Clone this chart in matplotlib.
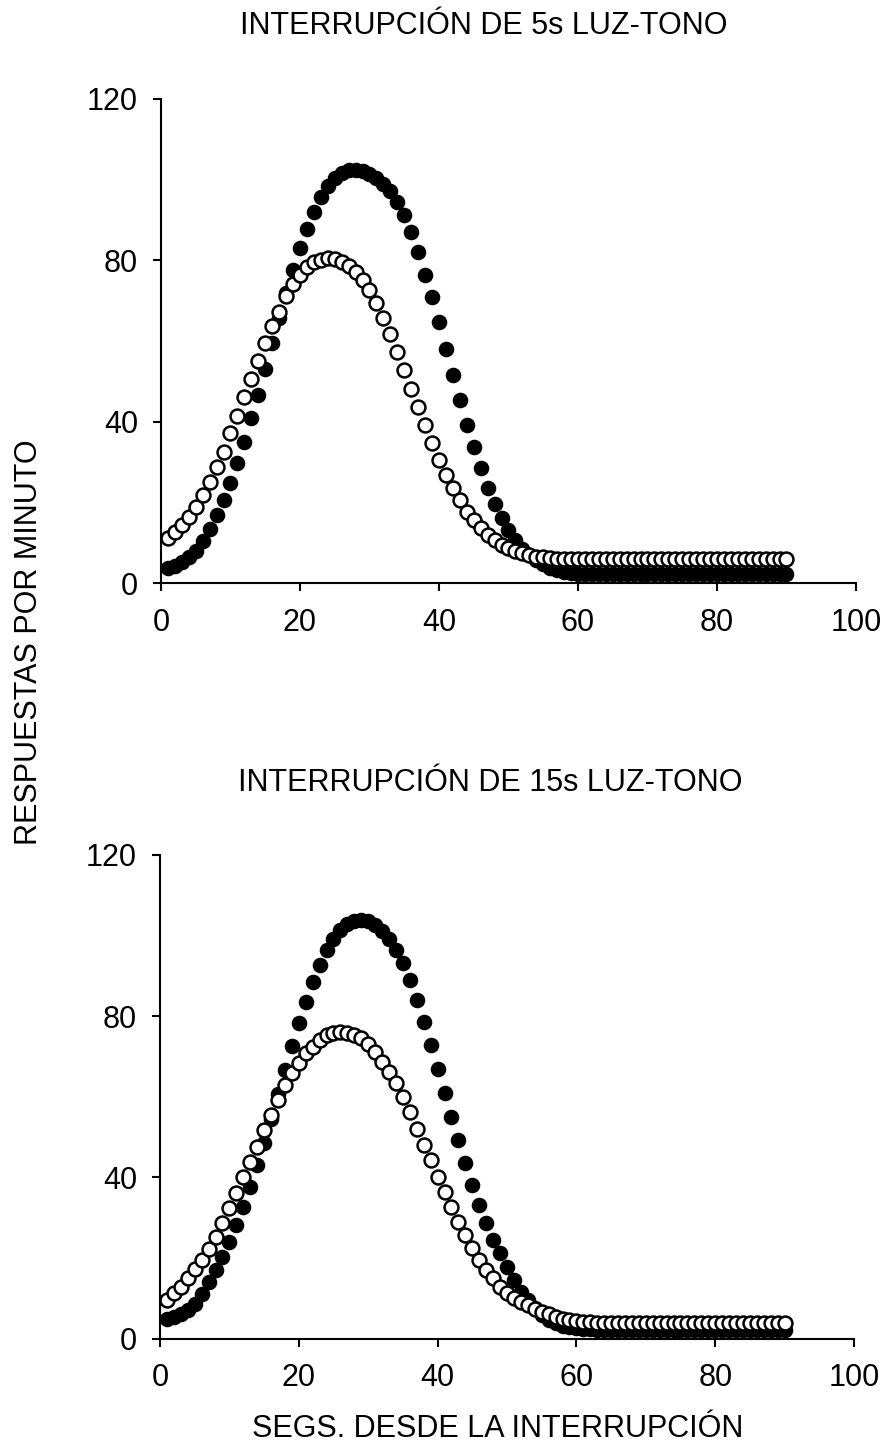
import numpy as np
import matplotlib
matplotlib.use("Agg")
import matplotlib.pyplot as plt

plt.rcParams['font.family'] = ['Liberation Sans', 'DejaVu Sans']

segs = np.arange(1, 91)

# panel 1: interrupción de 5s
llenos_5s = [3.7, 4.3, 5.2, 6.4, 8.0, 10.5, 13.4, 16.9, 20.6, 24.8,
             29.7, 34.9, 40.8, 46.6, 53.0, 59.4, 65.6, 71.8, 77.5, 83.0,
             87.7, 92.0, 95.5, 98.3, 100.3, 101.6, 102.2, 102.3, 102.0, 101.3,
             100.2, 98.8, 97.0, 94.5, 91.2, 87.0, 82.1, 76.3, 70.8, 64.6,
             58.0, 51.6, 45.4, 39.2, 33.7, 28.5, 23.5, 19.6, 16.1, 13.1,
             10.6, 8.6, 7.0, 5.7, 4.7, 3.9, 3.3, 2.9, 2.6, 2.4,
             2.3, 2.2, 2.2, 2.2, 2.2, 2.2, 2.2, 2.2, 2.2, 2.2,
             2.2, 2.2, 2.2, 2.2, 2.2, 2.2, 2.2, 2.2, 2.2, 2.2,
             2.2, 2.2, 2.2, 2.2, 2.2, 2.2, 2.2, 2.2, 2.2, 2.2]
vacios_5s = [11.1, 12.8, 14.4, 16.5, 19.0, 21.9, 25.1, 28.9, 32.6, 37.1,
             41.4, 46.2, 50.5, 55.1, 59.6, 63.7, 67.2, 71.2, 74.0, 76.3,
             78.2, 79.5, 80.1, 80.4, 80.2, 79.6, 78.6, 77.1, 75.1, 72.6,
             69.3, 65.6, 61.6, 57.3, 52.8, 48.1, 43.6, 39.1, 34.8, 30.5,
             26.8, 23.5, 20.6, 17.7, 15.7, 13.6, 12.0, 10.7, 9.5, 8.7,
             7.9, 7.4, 7.0, 6.6, 6.4, 6.2, 6.1, 6.0, 5.9, 5.9,
             5.9, 5.9, 5.9, 5.9, 5.9, 5.9, 5.9, 5.9, 5.9, 5.9,
             5.9, 5.9, 5.9, 5.9, 5.9, 5.9, 5.9, 5.9, 5.9, 5.9,
             5.9, 5.9, 5.9, 5.9, 5.9, 5.9, 5.9, 5.9, 5.9, 5.9]

# panel 2: interrupción de 15s
llenos_15s = [4.8, 5.3, 6.0, 7.0, 8.5, 11.0, 14.0, 17.0, 20.3, 24.0,
              28.2, 32.7, 37.7, 43.1, 48.6, 54.6, 60.6, 66.6, 72.6, 78.2,
              83.6, 88.5, 92.8, 96.4, 99.2, 101.4, 102.9, 103.7, 103.9, 103.6,
              102.7, 101.2, 99.1, 96.4, 93.1, 89.0, 84.0, 78.6, 72.8, 67.0,
              61.0, 55.0, 49.3, 43.5, 38.1, 33.1, 28.6, 24.4, 21.1, 17.8,
              14.5, 11.6, 9.6, 7.5, 5.8, 4.6, 3.8, 3.2, 2.8, 2.6,
              2.4, 2.3, 2.2, 2.2, 2.2, 2.2, 2.2, 2.2, 2.2, 2.2,
              2.2, 2.2, 2.2, 2.2, 2.2, 2.2, 2.2, 2.2, 2.2, 2.2,
              2.2, 2.2, 2.2, 2.2, 2.2, 2.2, 2.2, 2.2, 2.2, 2.2]
vacios_15s = [9.6, 11.2, 12.9, 14.9, 17.2, 19.5, 22.1, 25.3, 28.6, 32.3,
              36.0, 40.1, 43.9, 47.6, 51.7, 55.5, 59.2, 62.9, 66.0, 68.3,
              70.8, 72.4, 74.1, 75.3, 75.9, 76.1, 75.9, 75.3, 74.5, 73.1,
              71.2, 68.7, 66.2, 63.3, 60.0, 56.3, 52.1, 48.0, 44.3, 40.1,
              36.4, 32.7, 29.0, 25.7, 22.4, 19.5, 17.0, 14.9, 12.9, 11.2,
              10.0, 9.0, 8.2, 7.4, 6.7, 6.0, 5.4, 4.9, 4.6, 4.3,
              4.1, 4.0, 3.9, 3.8, 3.8, 3.8, 3.8, 3.8, 3.8, 3.8,
              3.8, 3.8, 3.8, 3.8, 3.8, 3.8, 3.8, 3.8, 3.8, 3.8,
              3.8, 3.8, 3.8, 3.8, 3.8, 3.8, 3.8, 3.8, 3.8, 3.8]

titulos = ["INTERRUPCIÓN DE 5s LUZ-TONO", "INTERRUPCIÓN DE 15s LUZ-TONO"]

W, H = 887, 1448
fig = plt.figure(figsize=(W / 100, H / 100), dpi=100)

# posiciones de los ejes en pixeles (izq, arriba, der, abajo)
cajas = [(161, 98.5, 856, 583.3), (160, 855, 854, 1338.5)]
series = [(llenos_5s, vacios_5s), (llenos_15s, vacios_15s)]
fs = 22

for caja, (llenos, vacios) in zip(cajas, series):
    x0, y0, x1, y1 = caja
    ax = fig.add_axes([x0 / W, 1 - y1 / H, (x1 - x0) / W, (y1 - y0) / H])
    ax.plot(segs, llenos, 'o', ms=10, mfc='black', mec='black', mew=1.2, ls='none', clip_on=False)
    ax.plot(segs, vacios, 'o', ms=10, mfc='white', mec='black', mew=1.8, ls='none', clip_on=False)
    ax.set_xlim(0, 100)
    ax.set_ylim(0, 120)
    ax.set_xticks([0, 20, 40, 60, 80, 100])
    ax.set_yticks([0, 40, 80, 120])
    ax.spines['top'].set_visible(False)
    ax.spines['right'].set_visible(False)
    ax.spines['left'].set_linewidth(1.5)
    ax.spines['bottom'].set_linewidth(1.5)
    ax.tick_params(direction='out', length=5.5, width=1.5, labelsize=fs)
    ax.tick_params(axis='x', pad=12)
    ax.tick_params(axis='y', pad=11)

fig.text(484 / W, 1 - 26 / H, titulos[0], ha='center', va='center', fontsize=fs)
fig.text(490 / W, 1 - 783 / H, titulos[1], ha='center', va='center', fontsize=fs)
fig.text(29 / W, 1 - 642 / H, "RESPUESTAS POR MINUTO", rotation=90,
         ha='center', va='center', fontsize=fs)
fig.text(498 / W, 1 - 1429 / H, "SEGS. DESDE LA INTERRUPCIÓN",
         ha='center', va='center', fontsize=fs)

fig.savefig("out.png", dpi=100)
